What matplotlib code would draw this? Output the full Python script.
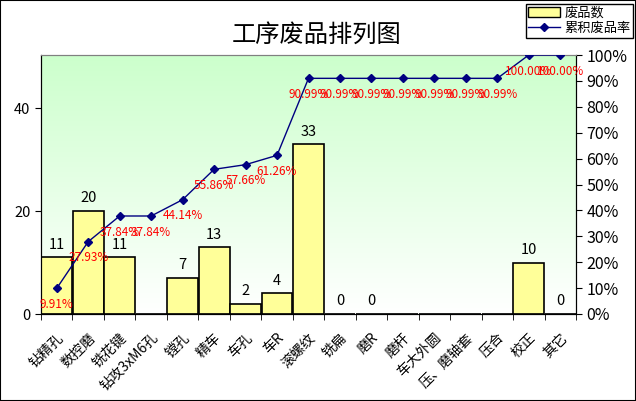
import numpy as np
import matplotlib
matplotlib.use('Agg')
import matplotlib.pyplot as plt
import matplotlib.transforms as mtransforms
from matplotlib.lines import Line2D
from matplotlib.patches import Patch, Rectangle

plt.rcParams['font.family'] = ['Noto Sans CJK SC', 'DejaVu Sans']

# data
categories = ['钻精孔', '数控磨', '铣花键', '钻攻3xM6孔', '镗孔', '精车', '车孔', '车R', '滚螺纹',
              '铣扁', '磨R', '磨杆', '车大外圆', '压、磨轴套', '压合', '校正', '其它']
rejects = [11, 20, 11, None, 7, 13, 2, 4, 33, 0, 0, None, None, None, None, 10, 0]
cum_rate = [9.91, 27.93, 37.84, 37.84, 44.14, 55.86, 57.66, 61.26, 90.99,
            90.99, 90.99, 90.99, 90.99, 90.99, 90.99, 100.00, 100.00]

W, H = 636, 401
fig = plt.figure(figsize=(W / 100, H / 100), dpi=100)
fig.patches.append(Rectangle((0, 0), 1, 1, transform=fig.transFigure, fill=False,
                             ec='black', lw=1.5))

ax = fig.add_axes([41 / W, 1 - 314 / H, (576 - 41) / W, (314 - 55) / H])
x = np.arange(len(categories))

# green-to-white gradient background
grad = np.linspace(0, 1, 256).reshape(-1, 1)
top = np.array([0.80, 1.0, 0.80])
bot = np.array([1.0, 1.0, 1.0])
img = top[None, None, :] * (1 - grad[:, :, None]) + bot[None, None, :] * grad[:, :, None]
ax.imshow(img, extent=[0, 1, 0, 1], transform=ax.transAxes, aspect='auto', zorder=0)

heights = [v if v is not None else 0 for v in rejects]
ax.bar(x, heights, width=0.98, color='#FFFF99', edgecolor='black', lw=1.2, zorder=2)
for xi, v in zip(x, rejects):
    if v is not None:
        ax.annotate(str(v), (xi, v), xytext=(0, 4), textcoords='offset points',
                    ha='center', va='bottom', fontsize=10.5, zorder=5)

ax.set_xlim(-0.5, len(categories) - 0.5)
ax.set_ylim(0, 50.3)
ax.set_yticks([0, 20, 40])
ax.set_xticks(x)
ax.set_xticklabels(categories, rotation=45, ha='right', rotation_mode='anchor', fontsize=10)
shift = mtransforms.ScaledTranslation(-9 / 100, 0, fig.dpi_scale_trans)
for lab in ax.get_xticklabels():
    lab.set_transform(lab.get_transform() + shift)
ax.set_xticks(np.arange(len(categories) + 1) - 0.5, minor=True)
ax.tick_params(axis='x', which='major', length=0, pad=12)
ax.tick_params(axis='x', which='minor', length=4, direction='out')
ax.tick_params(axis='y', length=4, direction='out', labelsize=10.5)
for s in ['left', 'bottom', 'right']:
    ax.spines[s].set_color('black')
ax.spines['top'].set_color('gray')

ax2 = ax.twinx()
ax2.plot(x, np.array(cum_rate) / 100, color='#000080', lw=1, marker='D', ms=4, zorder=4)
for xi, r in zip(x, cum_rate):
    ax2.annotate('%.2f%%' % r, (xi, r / 100), xytext=(0, -7), textcoords='offset points',
                 ha='center', va='top', fontsize=8.5, color='red', zorder=5)
ax2.set_ylim(0, 1)
ax2.set_yticks(np.arange(0, 1.01, 0.1))
ax2.set_yticklabels(['%d%%' % round(t * 100) for t in np.arange(0, 1.01, 0.1)], fontsize=11.5)
ax2.tick_params(axis='y', length=4, direction='out')
ax2.spines['top'].set_color('gray')

fig.text(317 / W, 1 - 35 / H, '工序废品排列图', ha='center', va='center', fontsize=17.5)

handles = [Patch(facecolor='#FFFF99', edgecolor='black'),
           Line2D([], [], color='#000080', lw=1, marker='D', ms=4)]
leg = fig.legend(handles, ['废品数', '累积废品率'], loc='upper right',
                 bbox_to_anchor=(633 / W, 1 - 4 / H), fontsize=9.5, fancybox=False,
                 edgecolor='black', framealpha=1, borderpad=0.2, labelspacing=0.2,
                 handlelength=2.4, handleheight=0.8, handletextpad=0.3, borderaxespad=0)
leg.get_frame().set_linewidth(1)

fig.savefig('out.png', dpi=100)
